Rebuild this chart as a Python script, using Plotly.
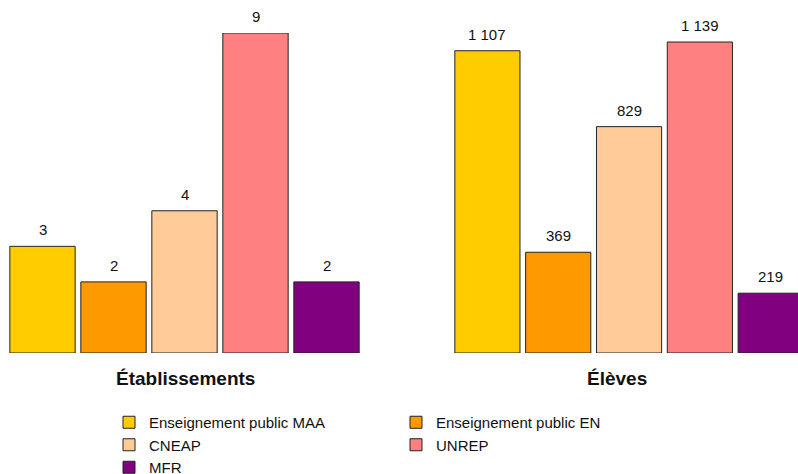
import plotly.graph_objs as go
from plotly.subplots import make_subplots

# --- Données ---
categories = ["Enseignement public MAA", "Enseignement public EN", "CNEAP", "UNREP", "MFR"]
etablissements = [3, 2, 4, 9, 2]
eleves = [1107, 369, 829, 1139, 219]
couleurs = ["#FFCC00", "#FF9900", "#FFCC99", "#FF8080", "#800080"]
panneaux = ["Établissements", "Élèves"]

W, H = 798, 474


def fmt(v):
    return f"{v:,}".replace(",", " ")


fig = make_subplots(rows=1, cols=2)

for i, (cat, coul) in enumerate(zip(categories, couleurs)):
    for col, serie in ((1, etablissements), (2, eleves)):
        fig.add_trace(go.Bar(
            x=[i], y=[serie[i]],
            name=cat,
            width=0.92,
            marker=dict(color=coul, line=dict(color="#222222", width=1)),
            showlegend=(col == 1),
            legendgroup=cat,
            hoverinfo="name+y",
        ), row=1, col=col)
        # étiquette de valeur au-dessus de la barre
        fig.add_annotation(
            x=i, y=serie[i], text=fmt(serie[i]),
            xref="x" if col == 1 else "x2",
            yref="y" if col == 1 else "y2",
            showarrow=False, yanchor="bottom", yshift=6,
            font=dict(size=15, color="#111111"),
        )

y0 = (H - 353) / H
y1 = (H - 33) / H
fig.update_xaxes(visible=False)
fig.update_yaxes(visible=False)
fig.update_layout(
    xaxis=dict(domain=[7 / W, 362 / W], range=[-0.5, 4.5]),
    xaxis2=dict(domain=[452 / W, 1], range=[-0.5, (798 - 487.5) / 70.8]),
    yaxis=dict(domain=[y0, y1], range=[0, 9]),
    yaxis2=dict(domain=[y0, y1], range=[0, 1172]),
)

for txt, xc in zip(panneaux, [185, 617]):
    fig.add_annotation(
        text=f"<b>{txt}</b>", x=xc / W, y=(H - 378) / H,
        xref="paper", yref="paper", showarrow=False,
        xanchor="center", yanchor="middle",
        font=dict(size=19, color="#111111"),
    )

fig.update_layout(
    width=W, height=H,
    margin=dict(l=0, r=0, t=0, b=0, autoexpand=False),
    barmode="overlay",
    plot_bgcolor="white",
    paper_bgcolor="white",
    font=dict(family="Arial, Liberation Sans, sans-serif", color="#111111"),
    legend=dict(
        orientation="h",
        x=109 / W, y=(H - 406) / H,
        xanchor="left", yanchor="top",
        entrywidth=242, entrywidthmode="pixels",
        font=dict(size=15),
        tracegroupgap=0,
        itemwidth=30,
    ),
)

fig.write_html("out.html", config={"displayModeBar": False},
               post_script="document.body.style.margin='0';")
